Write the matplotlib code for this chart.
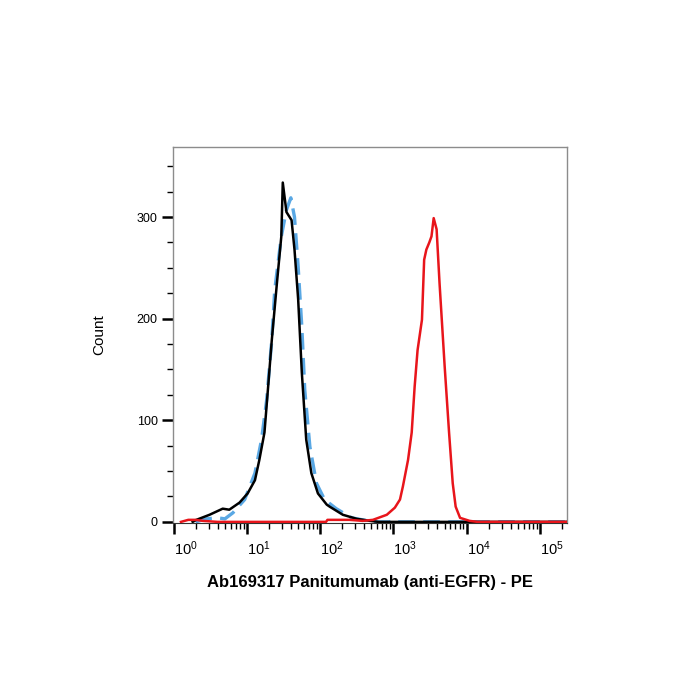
import numpy as np
import matplotlib
matplotlib.use("Agg")
import matplotlib.pyplot as plt
from matplotlib.ticker import FixedLocator, LogLocator, NullFormatter, MultipleLocator

plt.rcParams['font.family'] = ['Liberation Sans', 'DejaVu Sans']
plt.rcParams['mathtext.default'] = 'regular'

# histogram traces, x as log10(intensity), y as count
black_log = [0.26, 0.31, 0.49, 0.67, 0.76, 0.90, 1.01, 1.11, 1.17, 1.24, 1.29, 1.34, 1.41,
             1.47, 1.49, 1.54, 1.61, 1.65, 1.70, 1.75, 1.81, 1.88, 1.97, 2.09, 2.13, 2.31,
             2.50, 2.68, 2.80, 5.37]
black_cnt = [0, 2, 7, 13, 12, 19, 28, 41, 61, 88, 133, 179, 235,
             281, 334, 305, 297, 268, 219, 147, 81, 48, 28, 17, 15, 7,
             3, 1, 0, 0]

blue_log = [0.30, 0.45, 0.60, 0.70, 0.81, 0.97, 1.11, 1.20, 1.27, 1.34, 1.38, 1.47, 1.54,
            1.60, 1.65, 1.70, 1.75, 1.79, 1.86, 1.95, 2.06, 2.22, 2.43, 2.58, 2.75, 2.95,
            3.00, 3.05, 3.20, 5.37]
blue_cnt = [0, 3, 4, 3, 9, 22, 48, 81, 120, 179, 228, 281, 307,
            319, 300, 251, 192, 130, 74, 38, 22, 13, 4, 2, 0, 0,
            2, 0, 0, 0]

red_log = [0.10, 0.20, 0.30, 0.40, 0.60, 2.08, 2.10, 2.40, 2.58, 2.72, 2.91, 3.02, 3.09,
           3.13, 3.20, 3.25, 3.29, 3.33, 3.39, 3.42, 3.45, 3.49, 3.52, 3.55, 3.59, 3.63,
           3.70, 3.76, 3.81, 3.85, 3.91, 4.04, 4.15, 5.37]
red_cnt = [0, 2, 2, 1, 0, 0, 2, 2, 1, 2, 7, 14, 22,
           35, 61, 88, 133, 169, 199, 258, 268, 275, 281, 299, 288, 235,
           153, 88, 38, 15, 4, 1, 0, 0]

decades = [0, 1, 2, 3, 4, 5]

fig = plt.figure(figsize=(7, 7), dpi=100)
ax = fig.add_axes([0.247, 0.253, 0.563, 0.537])

ax.plot(10 ** np.array(blue_log), blue_cnt, color='#5aa8e4', lw=2.4,
        dashes=(5, 2.5), zorder=2)
ax.plot(10 ** np.array(black_log), black_cnt, color='black', lw=1.8, zorder=3)
ax.plot(10 ** np.array(red_log), red_cnt, color='#e8151b', lw=1.8, zorder=4)

ax.set_xscale('log')
ax.set_xlim(10 ** -0.01, 10 ** 5.37)
ax.set_ylim(-1, 369)

ax.xaxis.set_major_locator(FixedLocator([10.0 ** d for d in decades]))
ax.xaxis.set_minor_locator(LogLocator(base=10, subs=np.arange(2, 10)))
ax.xaxis.set_minor_formatter(NullFormatter())
ax.set_xticklabels(['$10^{%d}$' % d for d in decades])
for lab in ax.get_xticklabels():
    lab.set_horizontalalignment('left')

ax.yaxis.set_major_locator(FixedLocator([0, 100, 200, 300]))
ax.yaxis.set_minor_locator(MultipleLocator(25))

ax.tick_params(which='major', length=8, width=1.8, color='black', labelsize=9, pad=3)
ax.tick_params(which='minor', length=4, width=1, color='black')
ax.tick_params(axis='x', which='major', pad=4, labelsize=10.5)

for side in ['left', 'top', 'right']:
    ax.spines[side].set_color('#8c8c8c')
    ax.spines[side].set_linewidth(1)
ax.spines['bottom'].set_color('#333333')

ax.set_ylabel('Count', fontsize=11, labelpad=22)
ax.set_xlabel('Ab169317 Panitumumab (anti-EGFR) - PE', fontsize=12, fontweight='bold',
              labelpad=12)

fig.savefig('out.png', dpi=100)
